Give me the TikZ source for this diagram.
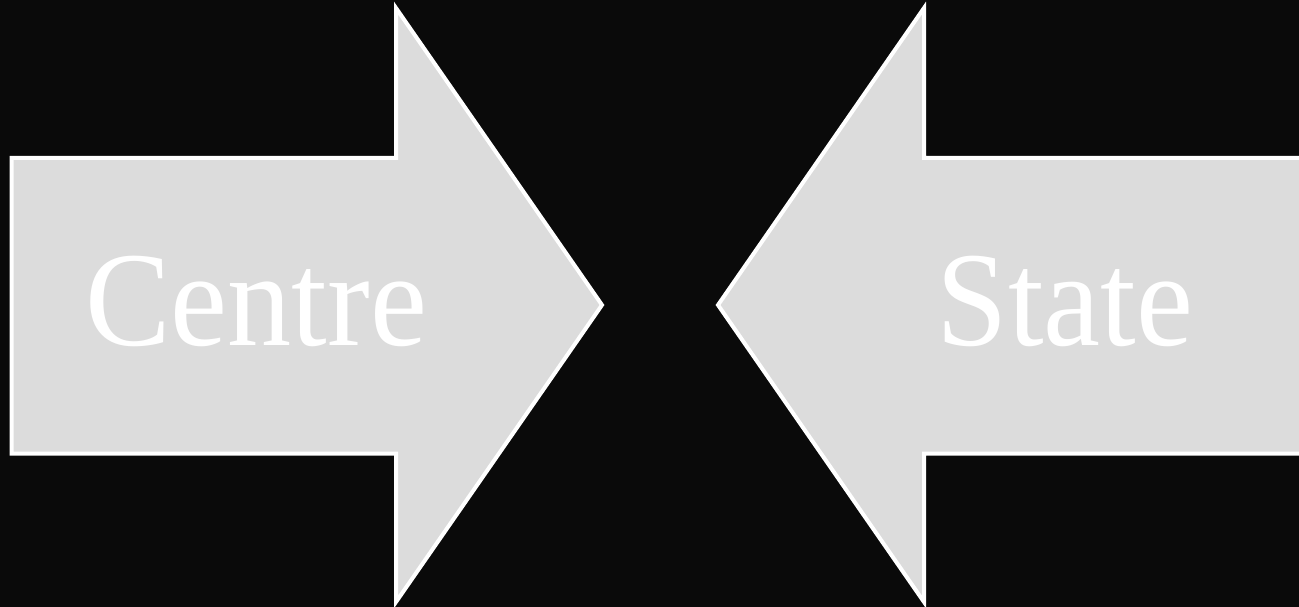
\documentclass[tikz,border=0pt]{standalone}
\usepackage{fontspec}
\newfontfamily\lblfont[FakeStretch=0.95]{Liberation Serif}
\definecolor{bg}{HTML}{0A0A0A}
\definecolor{arrowfill}{HTML}{DCDCDC}
\begin{document}
\begin{tikzpicture}[x=1pt,y=-1pt,
  arrowshape/.style={fill=arrowfill,draw=white,line width=4pt,line join=miter},
  lbl/.style={text=white,font=\lblfont\fontsize{135}{150}\selectfont,inner sep=0pt,anchor=base}]
\fill[bg] (0,0) rectangle (1299,607);
\useasboundingbox (0,0) rectangle (1299,607);
\begin{scope}
\clip (0,0) rectangle (1299,607);
\draw[arrowshape] (11.5,158) -- (396,158) -- (396,8) -- (602,305) -- (396,602) -- (396,453.5) -- (11.5,453.5) -- cycle;
\draw[arrowshape] (1320,158) -- (924,158) -- (924,8) -- (718,305) -- (924,602) -- (924,453.5) -- (1320,453.5) -- cycle;
\end{scope}
\node[lbl] (centre) at (256,345) {Centre};
\node[lbl] (state) at (1065,345) {State};
\end{tikzpicture}
\end{document}
